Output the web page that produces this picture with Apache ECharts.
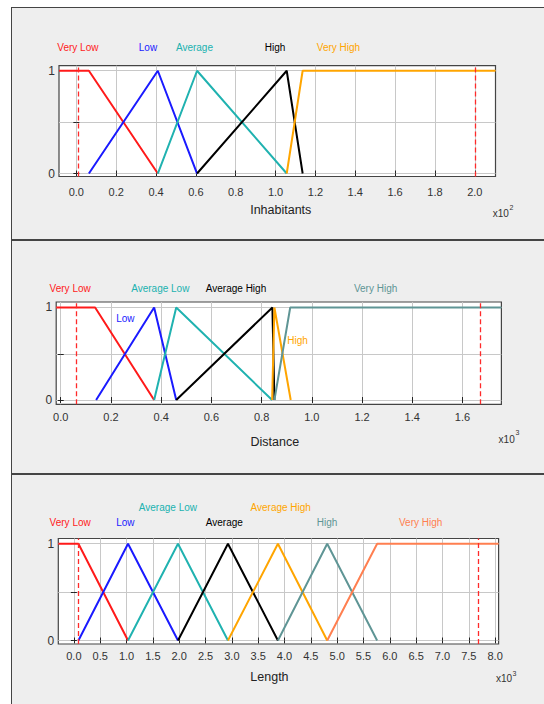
<!DOCTYPE html>
<html>
<head>
<meta charset="utf-8">
<script src="https://cdn.jsdelivr.net/npm/echarts@6/dist/echarts.min.js"></script>
<style>
html,body{margin:0;padding:0;background:#fff;}
#wrap{position:relative;width:544px;height:704px;overflow:hidden;}
.panel{position:absolute;left:11px;width:560px;background:#eeeeee;border-left:1.5px solid #444;}
#p1{top:7px;height:240px;border-top:1.3px solid #444;}
#p2{top:239px;height:240px;border-top:2px solid #444;}
#p3{top:473px;height:260px;border-top:2px solid #444;}
#chart{position:absolute;left:0;top:0;width:544px;height:704px;}
</style>
</head>
<body>
<div id="wrap">
  <div class="panel" id="p1"></div>
  <div class="panel" id="p2"></div>
  <div class="panel" id="p3"></div>
  <div id="chart"></div>
</div>
<script>
// ---------- DATA ----------
// Panel 1: Inhabitants (x10^2)
const inhabRange = [-0.087, 2.104];
const inhabTicks = [0.0, 0.2, 0.4, 0.6, 0.8, 1.0, 1.2, 1.4, 1.6, 1.8, 2.0];
const inhabNames = ['Very Low', 'Low', 'Average', 'High', 'Very High'];
const inhabVeryLow = [[-0.087, 1], [0.063, 1], [0.409, 0]];
const inhabLow = [[0.063, 0], [0.409, 1], [0.606, 0]];
const inhabAverage = [[0.409, 0], [0.606, 1], [1.056, 0]];
const inhabHigh = [[0.606, 0], [1.056, 1], [1.136, 0]];
const inhabVeryHigh = [[1.056, 0], [1.136, 1], [2.104, 1]];
const inhabBounds = [0.012, 2.003];

// Panel 2: Distance (x10^3)
const distRange = [-0.018, 1.755];
const distTicks = [0.0, 0.2, 0.4, 0.6, 0.8, 1.0, 1.2, 1.4, 1.6];
const distNames = ['Very Low', 'Low', 'Average Low', 'Average High', 'High', 'Very High'];
const distVeryLow = [[-0.018, 1], [0.137, 1], [0.372, 0]];
const distLow = [[0.141, 0], [0.372, 1], [0.460, 0]];
const distAvgLow = [[0.372, 0], [0.460, 1], [0.842, 0]];
const distAvgHigh = [[0.460, 0], [0.843, 1], [0.847, 0.5], [0.851, 0]];
const distHigh = [[0.842, 0], [0.851, 1], [0.916, 0]];
const distVeryHigh = [[0.851, 0], [0.914, 1], [1.755, 1]];
const distBounds = [0.061, 1.672];

// Panel 3: Length (x10^3)
const lenRange = [-0.296, 8.066];
const lenTicks = [0.0, 0.5, 1.0, 1.5, 2.0, 2.5, 3.0, 3.5, 4.0, 4.5, 5.0, 5.5, 6.0, 6.5, 7.0, 7.5, 8.0];
const lenNames = ['Very Low', 'Low', 'Average Low', 'Average', 'Average High', 'High', 'Very High'];
const lenVeryLow = [[-0.296, 1], [0.086, 1], [1.028, 0]];
const lenLow = [[0.086, 0], [1.028, 1], [1.977, 0]];
const lenAvgLow = [[1.028, 0], [1.977, 1], [2.926, 0]];
const lenAverage = [[1.977, 0], [2.926, 1], [3.875, 0]];
const lenAvgHigh = [[2.926, 0], [3.875, 1], [4.811, 0]];
const lenHigh = [[3.875, 0], [4.811, 1], [5.759, 0]];
const lenVeryHigh = [[4.811, 0], [5.759, 1], [8.066, 1]];
const lenBounds = [0.086, 7.677];

const memberTicks = [0, 0.5, 1];
const memberLabels = [0, 1];
const exponents = ['2', '3', '3'];

// ---------- STYLE / LAYOUT ----------
const FONT = '"Liberation Sans", Arial, sans-serif';
const panels = [
  { grid: {left: 59, top: 65.7, width: 436.5, height: 110.8}, yr: [-0.029, 1.049],
    xr: inhabRange, ticks: inhabTicks, name: 'Inhabitants', gap: 27, pad: [0, 0, 0, 7], lm: 9.7,
    series: [inhabVeryLow, inhabLow, inhabAverage, inhabHigh, inhabVeryHigh], names: inhabNames,
    colors: ['#ff1a1a', '#1a1aff', '#20b2b0', '#000000', '#ffa500'], bounds: inhabBounds,
    labels: [[57.3, 47.3], [138.8, 47.3], [175.9, 47.3], [264.7, 47.3], [316.8, 47.3]],
    exp: {x: 492.7, y: 213.3, sx: 509.5, sy: 207.5} },
  { grid: {left: 56.2, top: 302, width: 445.2, height: 102.3}, yr: [-0.046, 1.059],
    xr: distRange, ticks: distTicks, name: 'Distance', gap: 31.5, pad: [0, 8, 0, 0], lm: 6.9,
    series: [distVeryLow, distLow, distAvgLow, distAvgHigh, distHigh, distVeryHigh], names: distNames,
    colors: ['#ff1a1a', '#1a1aff', '#20b2b0', '#000000', '#ffa500', '#5f9595'], bounds: distBounds,
    labels: [[49.6, 288.7], [116.2, 318.7], [131.2, 288.7], [205.8, 288.7], [287.3, 340.7], [353.9, 288.7]],
    exp: {x: 498.6, y: 439, sx: 515.5, sy: 432} },
  { grid: {left: 58.3, top: 538.5, width: 440.3, height: 105.5}, yr: [-0.036, 1.054],
    xr: lenRange, ticks: lenTicks, name: 'Length', gap: 26.2, pad: [0, 18, 0, 0], lm: 6.5,
    series: [lenVeryLow, lenLow, lenAvgLow, lenAverage, lenAvgHigh, lenHigh, lenVeryHigh], names: lenNames,
    colors: ['#ff1a1a', '#1a1aff', '#20b2b0', '#000000', '#ffa500', '#5f9595', '#ff7f50'], bounds: lenBounds,
    labels: [[49.6, 522.7], [116.2, 522.7], [138.8, 507.7], [205.8, 522.7], [250.5, 507.7], [316.8, 522.7], [399, 522.7]],
    exp: {x: 496, y: 678.3, sx: 512.5, sy: 673} }
];

const grids = [], xAxes = [], yAxes = [], series = [], graphics = [];
const tickStyle = {show: true, inside: true, length: 3, lineStyle: {color: '#222', width: 1}};
const gridLine = {show: true, lineStyle: {color: '#c8c8c8', width: 1}};

panels.forEach((p, i) => {
  grids.push(Object.assign({show: true, backgroundColor: '#ffffff', borderColor: '#444', borderWidth: 1.2, containLabel: false}, p.grid));
  xAxes.push({
    type: 'value', gridIndex: i, position: 'bottom', min: p.xr[0], max: p.xr[1],
    axisLine: {show: false},
    axisTick: Object.assign({customValues: p.ticks}, tickStyle),
    splitLine: gridLine,
    axisLabel: {customValues: p.ticks, formatter: v => v.toFixed(1), margin: p.lm,
      fontSize: 11, fontFamily: FONT, color: '#333'},
    name: p.name, nameLocation: 'middle', nameGap: p.gap,
    nameTextStyle: {fontSize: 12.5, fontFamily: FONT, color: '#222', padding: p.pad}
  });
  xAxes.push({
    type: 'value', gridIndex: i, position: 'top', min: p.xr[0], max: p.xr[1],
    axisLine: {show: false}, axisTick: Object.assign({customValues: p.ticks}, tickStyle),
    splitLine: {show: false}, axisLabel: {show: false}
  });
  yAxes.push({
    type: 'value', gridIndex: i, position: 'left', min: p.yr[0], max: p.yr[1],
    axisLine: {show: false},
    axisTick: Object.assign({customValues: memberTicks}, tickStyle),
    splitLine: gridLine,
    axisLabel: {customValues: memberLabels, margin: 4, fontSize: 12, fontFamily: FONT, color: '#333', padding: [5, 0, 0, 0]}
  });
  yAxes.push({
    type: 'value', gridIndex: i, position: 'right', min: p.yr[0], max: p.yr[1],
    axisLine: {show: false}, axisTick: Object.assign({customValues: memberTicks}, tickStyle),
    splitLine: {show: false}, axisLabel: {show: false}
  });
  p.series.forEach((d, k) => {
    const s = {
      type: 'line', name: p.names[k], xAxisIndex: 2 * i, yAxisIndex: 2 * i, data: d,
      showSymbol: false, symbol: 'none', clip: true,
      lineStyle: {color: p.colors[k], width: 2}, itemStyle: {color: p.colors[k]}
    };
    if (k === 0) {
      s.markLine = {
        silent: true, symbol: ['none', 'none'], label: {show: false},
        lineStyle: {type: [5, 3], color: '#ff2a2a', width: 1.3},
        emphasis: {disabled: true},
        data: p.bounds.map(v => ({xAxis: v}))
      };
    }
    series.push(s);
    graphics.push({
      type: 'text', x: p.labels[k][0], y: p.labels[k][1], z: 100,
      style: {text: p.names[k], fill: p.colors[k], font: '10px ' + FONT, align: 'left', verticalAlign: 'middle'}
    });
  });
  graphics.push({type: 'text', x: p.exp.x, y: p.exp.y, z: 100,
    style: {text: 'x10', fill: '#333', font: '10px ' + FONT, align: 'left', verticalAlign: 'middle'}});
  graphics.push({type: 'text', x: p.exp.sx, y: p.exp.sy, z: 100,
    style: {text: exponents[i], fill: '#333', font: '7px ' + FONT, align: 'left', verticalAlign: 'middle'}});
});

const chart = echarts.init(document.getElementById('chart'), null, {renderer: 'svg'});
chart.setOption({
  animation: false,
  backgroundColor: 'transparent',
  textStyle: {fontFamily: FONT},
  grid: grids, xAxis: xAxes, yAxis: yAxes, series: series,
  graphic: graphics
});
</script>
</body>
</html>
